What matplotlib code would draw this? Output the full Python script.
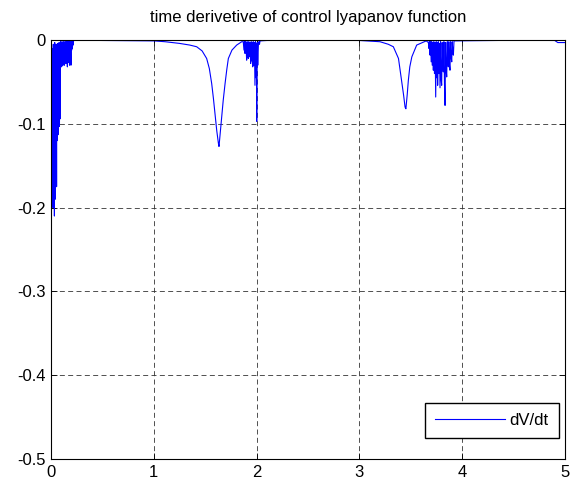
import numpy as np
import matplotlib
matplotlib.use("Agg")
from matplotlib import pyplot as plt

# valeurs (temps en s, dV/dt)
t_start = [0.000, 0.003, 0.006, 0.009, 0.012, 0.015, 0.019, 0.022, 0.026, 0.029,
           0.033, 0.036, 0.040, 0.043, 0.047, 0.050, 0.054, 0.057, 0.061, 0.064,
           0.068, 0.071, 0.075, 0.078, 0.082, 0.085, 0.089, 0.092, 0.096, 0.099,
           0.103, 0.106, 0.110, 0.113, 0.117, 0.120, 0.124, 0.127, 0.131, 0.134,
           0.138, 0.141, 0.145, 0.148, 0.152, 0.155, 0.159, 0.162, 0.166, 0.169,
           0.173, 0.176, 0.180, 0.183, 0.187, 0.190, 0.194, 0.197, 0.201, 0.204,
           0.208, 0.211, 0.215, 0.220]
v_start = [-0.600, -0.020, -0.190, -0.010, -0.150, -0.020, -0.200, -0.005, -0.147, -0.010,
           -0.210, -0.003, -0.190, -0.010, -0.150, -0.005, -0.175, -0.010, -0.120, -0.004,
           -0.113, -0.010, -0.100, -0.003, -0.103, -0.008, -0.094, -0.002, -0.030, -0.003,
           -0.032, -0.002, -0.030, -0.004, -0.030, -0.002, -0.028, -0.003, -0.030, -0.002,
           -0.022, -0.003, -0.028, -0.001, -0.020, -0.002, -0.032, -0.002, -0.018, -0.001,
           -0.027, -0.002, -0.030, -0.001, -0.024, -0.002, -0.030, -0.001, -0.012, -0.001,
           -0.010, 0.000, -0.006, 0.000]

t_dip1 = [0.5, 1.0, 1.11, 1.25, 1.35, 1.417, 1.47, 1.514, 1.54, 1.563, 1.58, 1.595,
          1.612, 1.628, 1.634, 1.645, 1.66, 1.675, 1.693, 1.71, 1.725, 1.76, 1.806, 1.855]
v_dip1 = [-0.0005, -0.001, -0.002, -0.004, -0.006, -0.008, -0.013, -0.022, -0.034, -0.052,
          -0.070, -0.088, -0.108, -0.123, -0.127, -0.112, -0.092, -0.072, -0.052, -0.035,
          -0.022, -0.012, -0.006, -0.002]

t_burst1 = [1.870, 1.877, 1.882, 1.887, 1.893, 1.898, 1.903, 1.908, 1.914, 1.919,
            1.924, 1.930, 1.936, 1.942, 1.947, 1.952, 1.957, 1.962, 1.967, 1.972,
            1.978, 1.984, 1.989, 1.994, 1.998, 2.001, 2.006, 2.011, 2.017, 2.022,
            2.028, 2.033]
v_burst1 = [-0.002, -0.012, -0.001, -0.016, -0.002, -0.010, -0.024, -0.002, -0.018, -0.022,
            -0.002, -0.020, -0.003, -0.028, -0.002, -0.025, -0.003, -0.032, -0.002, -0.030,
            -0.003, -0.054, -0.002, -0.045, -0.004, -0.097, -0.003, -0.030, -0.006, -0.002,
            -0.005, -0.001]

t_dip2 = [2.1, 2.5, 3.0, 3.2, 3.28, 3.33, 3.38, 3.41, 3.43, 3.444, 3.452, 3.465,
          3.476, 3.49, 3.51, 3.557, 3.65]
v_dip2 = [-0.0005, -0.0003, -0.0005, -0.002, -0.005, -0.008, -0.022, -0.048, -0.066, -0.080,
          -0.082, -0.065, -0.048, -0.032, -0.020, -0.006, -0.001]

t_burst2 = [3.671, 3.676, 3.681, 3.687, 3.692, 3.698, 3.703, 3.708, 3.714, 3.719,
            3.724, 3.730, 3.736, 3.742, 3.747, 3.752, 3.757, 3.761, 3.767, 3.772,
            3.778, 3.784, 3.789, 3.795, 3.800, 3.805, 3.811, 3.816, 3.822, 3.827,
            3.833, 3.838, 3.844, 3.849, 3.855, 3.860, 3.865, 3.870, 3.876, 3.881,
            3.887, 3.892, 3.898, 3.903, 3.909, 3.914, 3.920]
v_burst2 = [-0.003, -0.010, -0.001, -0.018, -0.002, -0.026, -0.002, -0.030, -0.003, -0.036,
            -0.002, -0.040, -0.003, -0.068, -0.002, -0.045, -0.003, -0.054, -0.002, -0.040,
            -0.004, -0.057, -0.002, -0.047, -0.054, -0.003, -0.030, -0.038, -0.002, -0.050,
            -0.078, -0.003, -0.035, -0.044, -0.002, -0.025, -0.032, -0.002, -0.030, -0.036,
            -0.002, -0.020, -0.026, -0.002, -0.015, -0.018, -0.001]

t_end = [4.5, 4.9, 4.93, 5.0]
v_end = [-0.0003, -0.0005, -0.003, -0.003]

t = np.concatenate([t_start, t_dip1, t_burst1, t_dip2, t_burst2, t_end])
dvdt = np.concatenate([v_start, v_dip1, v_burst1, v_dip2, v_burst2, v_end])

xticks_lab = ['0', '1', '2', '3', '4', '5']
yticks_val = [-0.5, -0.4, -0.3, -0.2, -0.1, 0]
yticks_lab = ['-0.5', '-0.4', '-0.3', '-0.2', '-0.1', '0']

plt.rcParams['font.family'] = ['Liberation Sans', 'DejaVu Sans']
fig = plt.figure(figsize=(5.72, 4.92), dpi=100)
ax = fig.add_axes([0.0892, 0.067, 0.8986, 0.8516])

ax.plot(t, dvdt, color='#0000ff', linewidth=0.8, label='dV/dt')

ax.set_xlim(0, 5)
ax.set_ylim(-0.5, 0)
ax.set_xticks(range(6))
ax.set_xticklabels(xticks_lab)
ax.set_yticks(yticks_val)
ax.set_yticklabels(yticks_lab)
ax.tick_params(direction='in', length=4, width=0.6, labelsize=12,
               top=True, right=True, pad=4)
ax.grid(True, color='#333333', linestyle=(0, (6, 4)), linewidth=0.6)
for s in ax.spines.values():
    s.set_linewidth(0.8)
ax.set_title('time derivetive of control lyapanov function', fontsize=12, pad=13)

ax.legend(loc='lower right', bbox_to_anchor=(0.988, 0.05), borderaxespad=0,
          fancybox=False, edgecolor='k', framealpha=1, fontsize=12,
          handlelength=4.2, handletextpad=0.3, borderpad=0.6)

fig.savefig('out.png', dpi=100)
